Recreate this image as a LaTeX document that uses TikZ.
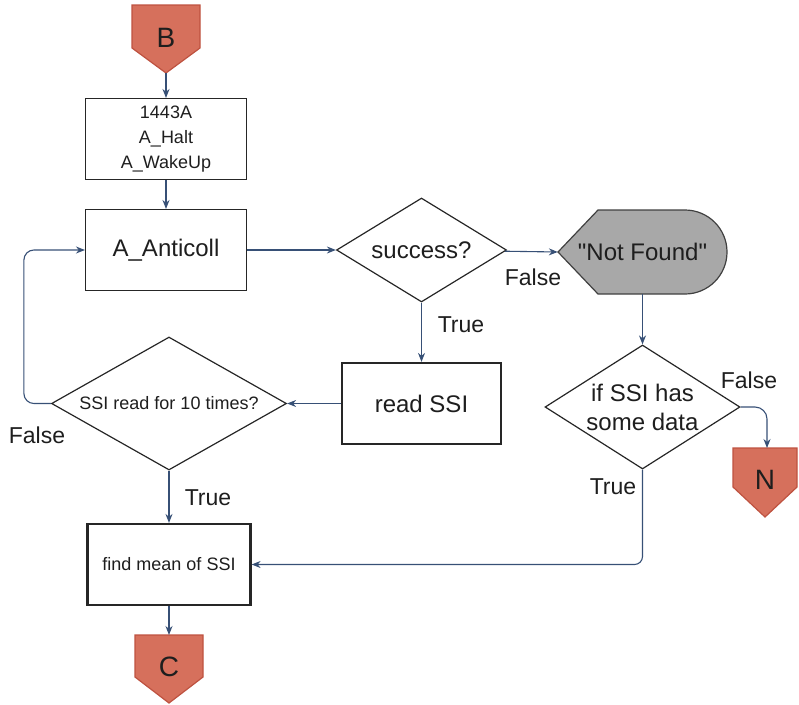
\documentclass[tikz,border=0pt]{standalone}
\usepackage{fontspec}
\setmainfont{Liberation Sans}[Ligatures=TeXOff]
\usetikzlibrary{shapes.geometric,arrows.meta}
\definecolor{ln}{RGB}{55,80,118}
\definecolor{cf}{RGB}{214,112,92}
\definecolor{cb}{RGB}{190,82,64}
\definecolor{gf}{RGB}{168,168,168}
\definecolor{tx}{RGB}{30,30,30}
\begin{document}
\begin{tikzpicture}[x=1pt,y=-1pt,
 box/.style={draw=black!85, line width=1.1pt, minimum width=161pt, minimum height=81pt, inner sep=0pt, align=center, text=tx},
 thickbox/.style={box, line width=2.2pt},
 dec/.style={draw=black!85, shape=diamond, line width=1.2pt, inner sep=0pt, align=center, text=tx},
 arr/.style={draw=ln, line width=1.1pt, -{Stealth[length=9pt,width=7pt]}},
 lbl/.style={text=tx, font=\fontsize{23}{26}\selectfont},
 big/.style={font=\fontsize{24}{29}\selectfont},
 small/.style={font=\fontsize{18}{25}\selectfont},
 conn/.style={fill=cf, draw=cb, line width=1.2pt},
 letter/.style={text=tx, font=\fontsize{28}{30}\selectfont}
]
\useasboundingbox (0,0) rectangle (799,704);

% connectors
\draw[conn] (132,5) -- (200,5) -- (200,48) -- (166,73) -- (132,48) -- cycle;
\node[letter] (B) at (166,38) {B};
\coordinate (Btip) at (166,73);

\draw[conn] (733,448) -- (797,448) -- (797,487) -- (765,517) -- (733,487) -- cycle;
\node[letter] (N) at (765,480) {N};
\coordinate (Ntop) at (767,448);

\draw[conn] (135,635) -- (203,635) -- (203,677) -- (169,703) -- (135,677) -- cycle;
\node[letter] (C) at (169,667) {C};
\coordinate (Ctop) at (169,635);

% boxes
\node[box, small] (init) at (166,139) {1443A\\A\_Halt\\A\_WakeUp};
\node[box, big] (anti) at (166,250) {A\_Anticoll};
\node[dec, big, aspect=1.6, minimum width=170pt, minimum height=104pt] (succ) at (421.5,250) {success?};
\node[thickbox, big, minimum width=159pt] (read) at (421.5,403.5) {read SSI};
\node[dec, small, aspect=2, minimum width=235pt, minimum height=133pt] (ten) at (169,403.5) {SSI read for 10 times?};
\node[thickbox, small, minimum width=163pt] (mean) at (169,564.5) {find mean of SSI};

\draw[fill=gf, draw=black!75, line width=1.2pt] (558,252) -- (598,210) -- (685,210) arc[start angle=-90,end angle=90,radius=42] -- (598,294) -- cycle;
\node[big, text=tx, minimum width=169pt, minimum height=84pt, inner sep=0pt] (nf) at (642.5,252) {"Not Found"};

\node[dec, big, aspect=1.5, minimum width=195pt, minimum height=124pt] (has) at (642.5,407) {if SSI has\\some data};

% arrows
\draw[arr] (Btip) -- (init.north);
\draw[arr] (init) -- (anti);
\draw[arr] (anti) -- (succ);
\draw[arr] (succ) -- (nf.west);
\draw[arr] (nf.south) -- (has.north);
\draw[arr] (succ) -- (read);
\draw[arr] (read) -- (ten);
\draw[arr, rounded corners=10pt] (ten.west) -- ++(-27,0) |- (anti.west);
\draw[arr] (ten) -- (mean);
\draw[arr, rounded corners=8pt] (has.south) |- (mean.east);
\draw[arr, rounded corners=12pt] (has.east) -| (Ntop);
\draw[arr] (mean) -- (Ctop);

% labels
\node[lbl] (l1) at (533,277) {False};
\node[lbl] (l2) at (461,325) {True};
\node[lbl] (l3) at (749,380) {False};
\node[lbl] (l4) at (613,487) {True};
\node[lbl] (l5) at (37,435) {False};
\node[lbl] (l6) at (208,498) {True};
\end{tikzpicture}
\end{document}
